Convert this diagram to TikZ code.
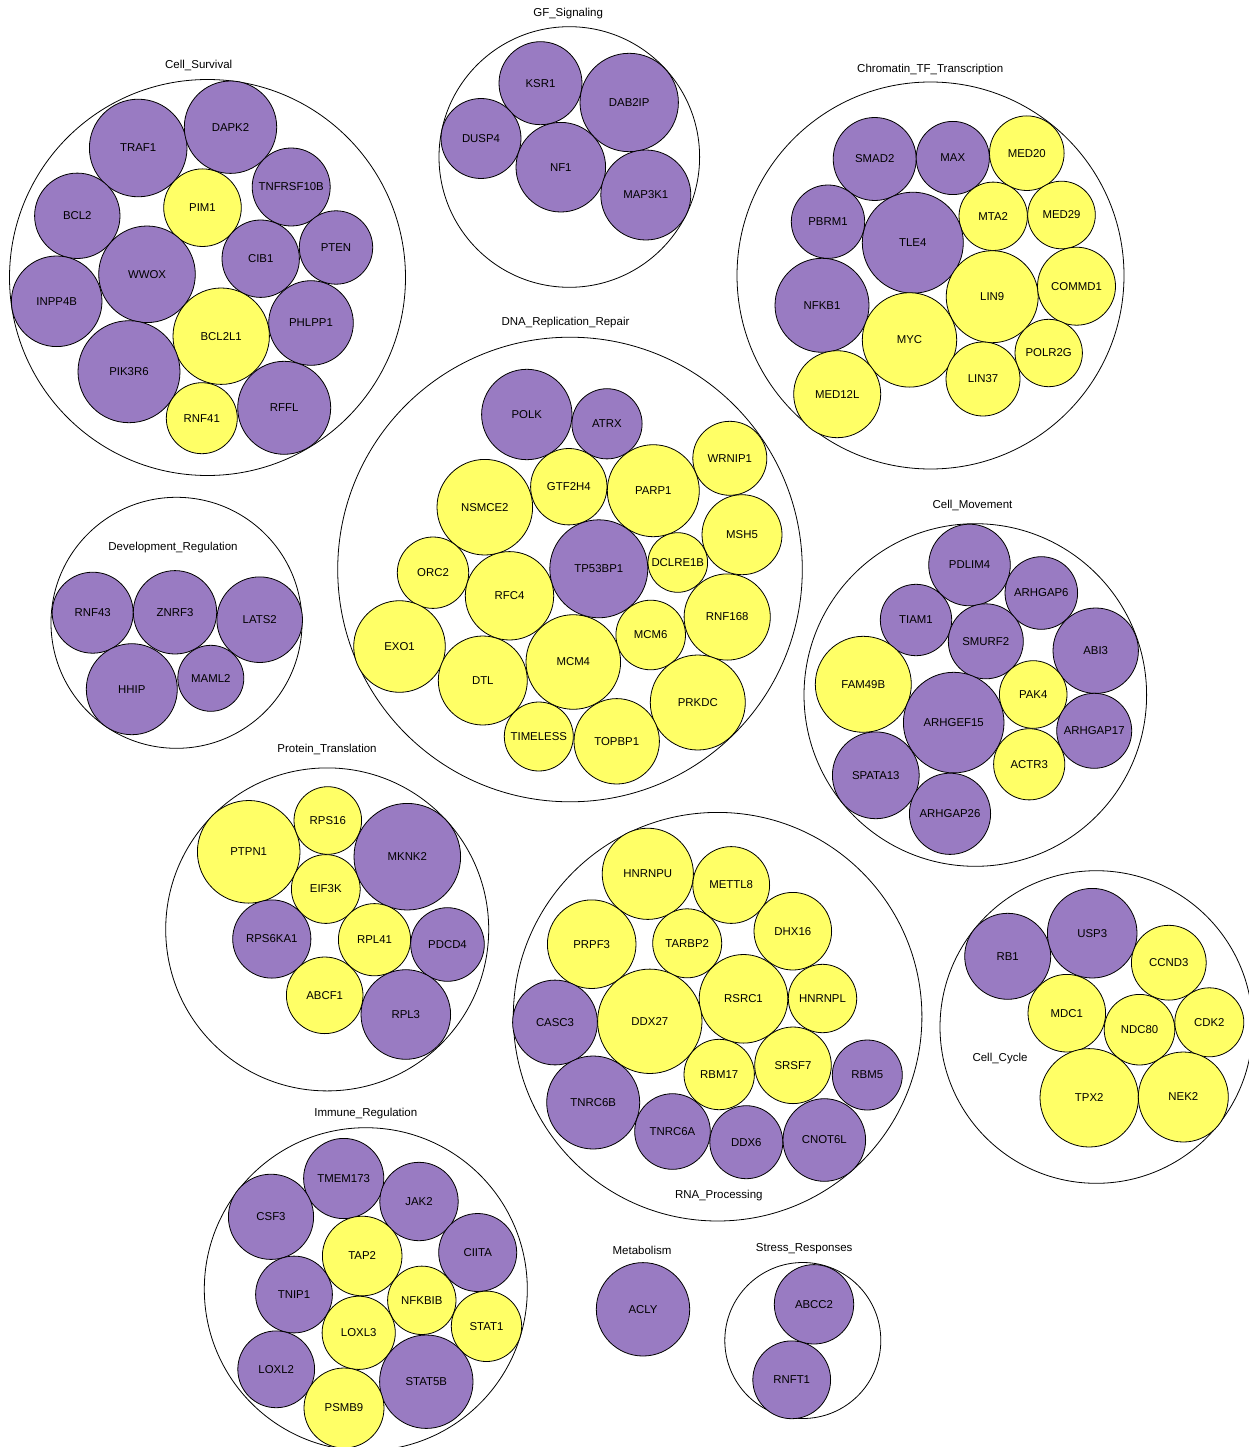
\documentclass[tikz,border=0pt]{standalone}
\usepackage{fontspec}
\setmainfont{Liberation Sans}
\definecolor{purp}{RGB}{153,123,194}
\definecolor{yel}{RGB}{255,255,102}
\tikzset{
  gene/.style={circle, draw=black, line width=0.8pt, inner sep=0pt, outer sep=0pt, font=\fontsize{11.4}{13}\selectfont, text depth=-0.6pt},
  pg/.style={gene, fill=purp, minimum size=2*#1},
  yg/.style={gene, fill=yel, minimum size=2*#1},
  grp/.style={circle, draw=black, line width=0.8pt, inner sep=0pt, outer sep=0pt, minimum size=2*#1},
  glabel/.style={font=\fontsize{11.5}{13}\selectfont, inner sep=0pt, anchor=base},
}
\begin{document}
\begin{tikzpicture}[x=1pt,y=-1pt]
\useasboundingbox (0,0) rectangle (1249,1447);
\fill[white] (0,0) rectangle (1249,1447);
% ---------- Cell_Survival
\node[grp=198] (c-surv) at (207.5,277.5) {};
\node[glabel] (l-surv) at (198.7,68.3) {Cell\_Survival};
\node[pg=48.8] (g-TRAF1) at (138.2,148) {TRAF1};
\node[pg=46.2] (g-DAPK2) at (230.5,127.2) {DAPK2};
\node[pg=39] (g-TNFRSF10B) at (291.2,187) {TNFRSF10B};
\node[pg=42.7] (g-BCL2) at (77.3,215.8) {BCL2};
\node[yg=38.8] (g-PIM1) at (202.5,207.7) {PIM1};
\node[pg=36.7] (g-PTEN) at (336,247.5) {PTEN};
\node[pg=38.7] (g-CIB1) at (260.7,258.7) {CIB1};
\node[pg=48.3] (g-WWOX) at (147,274.3) {WWOX};
\node[pg=45.3] (g-INPP4B) at (56.7,301.3) {INPP4B};
\node[pg=42.3] (g-PHLPP1) at (311,323) {PHLPP1};
\node[yg=48.2] (g-BCL2L1) at (221.2,336.2) {BCL2L1};
\node[pg=51] (g-PIK3R6) at (129,371.7) {PIK3R6};
\node[yg=35.5] (g-RNF41) at (201.8,418.2) {RNF41};
\node[pg=46.5] (g-RFFL) at (284.2,407.8) {RFFL};
% ---------- Development_Regulation
\node[grp=125.5] (c-dev) at (176.5,622.8) {};
\node[glabel] (l-dev) at (173,550.7) {Development\_Regulation};
\node[pg=40.5] (g-RNF43) at (92.7,612.7) {RNF43};
\node[pg=41.7] (g-ZNRF3) at (175,612.3) {ZNRF3};
\node[pg=42.8] (g-LATS2) at (259.7,619.7) {LATS2};
\node[pg=45.5] (g-HHIP) at (131.8,689.2) {HHIP};
\node[pg=33] (g-MAML2) at (210.8,678.3) {MAML2};
% ---------- GF_Signaling
\node[grp=130.3] (c-gf) at (569.3,157) {};
\node[glabel] (l-gf) at (568.2,16.7) {GF\_Signaling};
\node[pg=41.5] (g-KSR1) at (540.5,83.2) {KSR1};
\node[pg=49.2] (g-DAB2IP) at (629.2,102.5) {DAB2IP};
\node[pg=40] (g-DUSP4) at (481,138.5) {DUSP4};
\node[pg=44.8] (g-NF1) at (560.8,167.2) {NF1};
\node[pg=45] (g-MAP3K1) at (645.8,195) {MAP3K1};
% ---------- Chromatin_TF_Transcription
\node[grp=193.5] (c-chr) at (930.5,275.5) {};
\node[glabel] (l-chr) at (930.2,72.3) {Chromatin\_TF\_Transcription};
\node[pg=41.5] (g-SMAD2) at (874.7,159) {SMAD2};
\node[pg=36.6] (g-MAX) at (952.8,158) {MAX};
\node[yg=37.3] (g-MED20) at (1026.8,153.2) {MED20};
\node[yg=34.2] (g-MTA2) at (993.2,216.3) {MTA2};
\node[yg=33.8] (g-MED29) at (1061.5,215) {MED29};
\node[pg=50.5] (g-TLE4) at (912.8,242.7) {TLE4};
\node[pg=36.7] (g-PBRM1) at (828,221.7) {PBRM1};
\node[pg=47] (g-NFKB1) at (822,305.3) {NFKB1};
\node[yg=46] (g-LIN9) at (992.2,296.7) {LIN9};
\node[yg=39] (g-COMMD1) at (1076.5,286.2) {COMMD1};
\node[yg=47.2] (g-MYC) at (909.5,339.9) {MYC};
\node[yg=33.7] (g-POLR2G) at (1048.7,353) {POLR2G};
\node[yg=37] (g-LIN37) at (983,379) {LIN37};
\node[yg=43.5] (g-MED12L) at (837.2,394.2) {MED12L};
% ---------- DNA_Replication_Repair
\node[grp=232.3] (c-dna) at (570,569.5) {};
\node[glabel] (l-dna) at (565.5,325) {DNA\_Replication\_Repair};
\node[pg=45.2] (g-POLK) at (526.8,414.5) {POLK};
\node[pg=35.1] (g-ATRX) at (607,423.8) {ATRX};
\node[yg=37] (g-WRNIP1) at (729.8,458.3) {WRNIP1};
\node[yg=38.2] (g-GTF2H4) at (568.8,486.7) {GTF2H4};
\node[yg=46] (g-PARP1) at (653.3,490.7) {PARP1};
\node[yg=47.8] (g-NSMCE2) at (484.8,507.2) {NSMCE2};
\node[yg=40] (g-MSH5) at (742,534.7) {MSH5};
\node[pg=49] (g-TP53BP1) at (598.8,568.8) {TP53BP1};
\node[yg=29.8] (g-DCLRE1B) at (677.8,562.5) {DCLRE1B};
\node[yg=35.7] (g-ORC2) at (433,572.7) {ORC2};
\node[yg=44.2] (g-RFC4) at (509.5,595.8) {RFC4};
\node[yg=43.1] (g-RNF168) at (727.2,617) {RNF168};
\node[yg=34.8] (g-MCM6) at (650.7,635) {MCM6};
\node[yg=47.3] (g-MCM4) at (573.3,662) {MCM4};
\node[yg=45.8] (g-EXO1) at (399.5,646.5) {EXO1};
\node[yg=44.5] (g-DTL) at (482.8,680.5) {DTL};
\node[yg=47.5] (g-PRKDC) at (697.8,702.5) {PRKDC};
\node[yg=34.5] (g-TIMELESS) at (538.8,736.5) {TIMELESS};
\node[yg=42.7] (g-TOPBP1) at (616.7,741.3) {TOPBP1};
% ---------- Cell_Movement
\node[grp=171.3] (c-mov) at (975.3,695) {};
\node[glabel] (l-mov) at (972.5,508.3) {Cell\_Movement};
\node[pg=40.8] (g-PDLIM4) at (969.5,565) {PDLIM4};
\node[pg=36.3] (g-ARHGAP6) at (1041.3,593) {ARHGAP6};
\node[pg=35.7] (g-TIAM1) at (916,620) {TIAM1};
\node[pg=37.5] (g-SMURF2) at (985.8,641.3) {SMURF2};
\node[pg=42.7] (g-ABI3) at (1095.7,650.7) {ABI3};
\node[yg=48] (g-FAM49B) at (863.3,684.3) {FAM49B};
\node[yg=33.8] (g-PAK4) at (1033.2,694.5) {PAK4};
\node[pg=50.3] (g-ARHGEF15) at (953.7,722.6) {ARHGEF15};
\node[pg=37.5] (g-ARHGAP17) at (1094.2,730.8) {ARHGAP17};
\node[yg=35.6] (g-ACTR3) at (1029.2,764.3) {ACTR3};
\node[pg=43.4] (g-SPATA13) at (875.8,775.3) {SPATA13};
\node[pg=40.6] (g-ARHGAP26) at (950,813.8) {ARHGAP26};
% ---------- Protein_Translation
\node[grp=161.5] (c-prot) at (327.2,929.4) {};
\node[glabel] (l-prot) at (327,752) {Protein\_Translation};
\node[yg=51.3] (g-PTPN1) at (248.7,851.8) {PTPN1};
\node[yg=33.8] (g-RPS16) at (327.8,820.5) {RPS16};
\node[yg=34.4] (g-EIF3K) at (325.8,889) {EIF3K};
\node[pg=53.3] (g-MKNK2) at (407.3,856.7) {MKNK2};
\node[pg=39.1] (g-RPS6KA1) at (271.8,939) {RPS6KA1};
\node[yg=36.1] (g-RPL41) at (374.5,939.7) {RPL41};
\node[yg=38.3] (g-ABCF1) at (324.7,995.3) {ABCF1};
\node[pg=36.8] (g-PDCD4) at (447.5,944.5) {PDCD4};
\node[pg=44.8] (g-RPL3) at (405.8,1014.5) {RPL3};
% ---------- RNA_Processing
\node[grp=204.3] (c-rna) at (717.6,1016.7) {};
\node[glabel] (l-rna) at (718.8,1198.7) {RNA\_Processing};
\node[yg=45.6] (g-HNRNPU) at (647.8,873.8) {HNRNPU};
\node[yg=38.4] (g-METTL8) at (731.2,885) {METTL8};
\node[yg=38.8] (g-DHX16) at (792.8,931.2) {DHX16};
\node[yg=44.3] (g-PRPF3) at (591.7,944.2) {PRPF3};
\node[yg=34.5] (g-TARBP2) at (687.2,943.3) {TARBP2};
\node[yg=44.3] (g-RSRC1) at (743.5,998.8) {RSRC1};
\node[yg=34.2] (g-HNRNPL) at (822.5,998.5) {HNRNPL};
\node[pg=42.4] (g-CASC3) at (555,1022.5) {CASC3};
\node[yg=52.2] (g-DDX27) at (649.8,1021.3) {DDX27};
\node[yg=35.2] (g-RBM17) at (719.2,1074.5) {RBM17};
\node[yg=38.3] (g-SRSF7) at (793,1065.3) {SRSF7};
\node[pg=35] (g-RBM5) at (867.3,1075) {RBM5};
\node[pg=46.5] (g-TNRC6B) at (593.2,1102.5) {TNRC6B};
\node[pg=37.8] (g-TNRC6A) at (672.5,1131.5) {TNRC6A};
\node[pg=36.5] (g-DDX6) at (746.3,1142.2) {DDX6};
\node[pg=41.3] (g-CNOT6L) at (824.3,1140) {CNOT6L};
% ---------- Cell_Cycle
\node[grp=156.3] (c-cyc) at (1096.3,1027) {};
\node[glabel] (l-cyc) at (1000,1061.7) {Cell\_Cycle};
\node[pg=43] (g-RB1) at (1007.7,956.3) {RB1};
\node[pg=44.8] (g-USP3) at (1092.2,933.2) {USP3};
\node[yg=37.4] (g-CCND3) at (1168.8,962.7) {CCND3};
\node[yg=38.8] (g-MDC1) at (1066.8,1013.2) {MDC1};
\node[yg=35.3] (g-NDC80) at (1139.5,1029.7) {NDC80};
\node[yg=34.5] (g-CDK2) at (1209.3,1022.3) {CDK2};
\node[yg=49.2] (g-TPX2) at (1089.2,1097.8) {TPX2};
\node[yg=45] (g-NEK2) at (1183.3,1097) {NEK2};
% ---------- Immune_Regulation
\node[grp=161.5] (c-imm) at (365.8,1289.2) {};
\node[glabel] (l-imm) at (365.8,1116) {Immune\_Regulation};
\node[pg=40.1] (g-TMEM173) at (343.7,1178.5) {TMEM173};
\node[pg=42.6] (g-CSF3) at (271,1216.8) {CSF3};
\node[pg=39.2] (g-JAK2) at (419,1201.5) {JAK2};
\node[yg=39.8] (g-TAP2) at (362.2,1256) {TAP2};
\node[pg=39] (g-CIITA) at (477.7,1252.5) {CIITA};
\node[pg=38.4] (g-TNIP1) at (294,1294.5) {TNIP1};
\node[yg=34.2] (g-NFKBIB) at (421.8,1300.3) {NFKBIB};
\node[yg=35.2] (g-STAT1) at (486.5,1326.3) {STAT1};
\node[yg=36.6] (g-LOXL3) at (358.7,1332.8) {LOXL3};
\node[pg=38.4] (g-LOXL2) at (276.2,1369.3) {LOXL2};
\node[pg=46.7] (g-STAT5B) at (426.3,1381.7) {STAT5B};
\node[yg=40] (g-PSMB9) at (344,1408) {PSMB9};
% ---------- Metabolism
\node[glabel] (l-met) at (642,1254.7) {Metabolism};
\node[pg=46.7] (g-ACLY) at (643,1309.3) {ACLY};
% ---------- Stress_Responses
\node[grp=78] (c-str) at (802.8,1340.5) {};
\node[glabel] (l-str) at (804.2,1251) {Stress\_Responses};
\node[pg=39.7] (g-ABCC2) at (814,1304.3) {ABCC2};
\node[pg=38.9] (g-RNFT1) at (791.7,1379.8) {RNFT1};
\end{tikzpicture}
\end{document}
